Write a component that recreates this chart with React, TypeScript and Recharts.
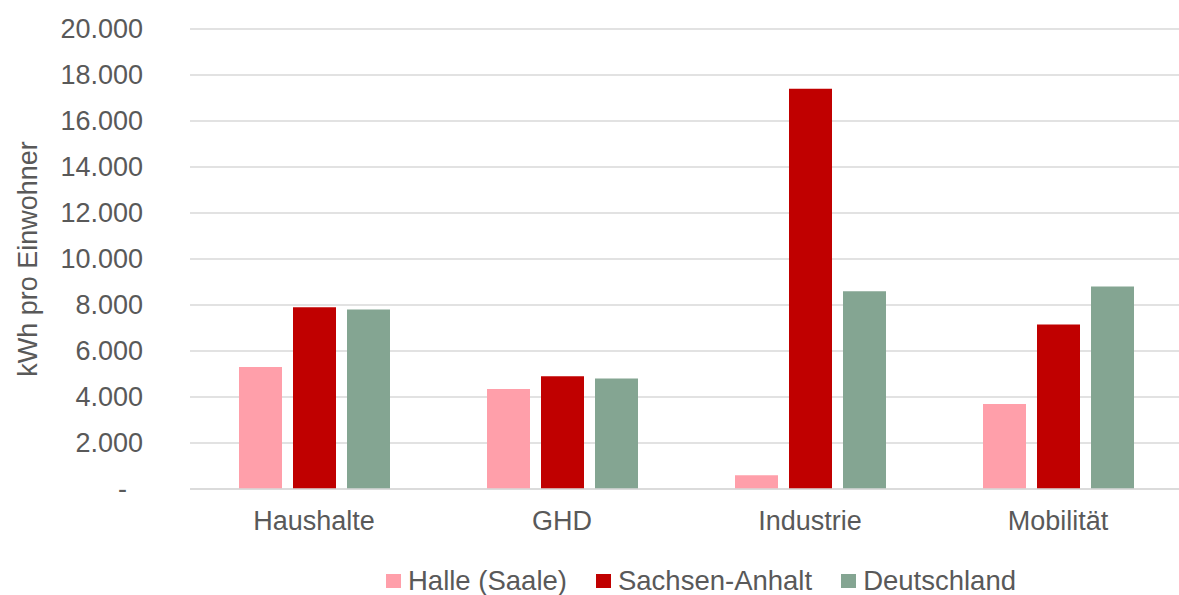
import * as React from "react";
import { BarChart, Bar, XAxis, YAxis, CartesianGrid, Legend, Label } from "recharts";

const categories = ["Haushalte", "GHD", "Industrie", "Mobilität"];
const halle = [5300, 4350, 600, 3700];
const sachsenAnhalt = [7900, 4900, 17400, 7150];
const deutschland = [7800, 4800, 8600, 8800];
const yTicks = [0, 2000, 4000, 6000, 8000, 10000, 12000, 14000, 16000, 18000, 20000];

const series = [
    { key: "halle", name: "Halle (Saale)", color: "#FF9FAA" },
    { key: "sachsenAnhalt", name: "Sachsen-Anhalt", color: "#C00000" },
    { key: "deutschland", name: "Deutschland", color: "#84A592" },
];

const data = categories.map((c, i) => ({
    name: c,
    halle: halle[i],
    sachsenAnhalt: sachsenAnhalt[i],
    deutschland: deutschland[i],
}));

const FONT = '"Liberation Sans", Arial, sans-serif';
const TEXT = "#595959";

const fmt = (v: number) => String(v).replace(/\B(?=(\d{3})+(?!\d))/g, ".");

const YTick = (props: any) => {
    const { x, y, payload } = props;
    const zero = payload.value === 0;
    return (
        <text x={zero ? x - 16 : x} y={y} dy="0.35em" textAnchor="end" fill={TEXT} fontSize={27} fontFamily={FONT}>
            {zero ? "-" : fmt(payload.value)}
        </text>
    );
};

const YLabel = (props: any) => {
    const vb = props.viewBox || {};
    const cx = 28;
    const cy = (vb.y ?? 29) + (vb.height ?? 460) / 2;
    return (
        <text x={cx} y={cy} dy="0.35em" textAnchor="middle" transform={`rotate(-90, ${cx}, ${cy})`} fill={TEXT} fontSize={27} fontFamily={FONT}>
            kWh pro Einwohner
        </text>
    );
};

const LegendBox = () => (
    <div style={{ height: 46, position: "relative", fontFamily: FONT, fontSize: 27.5, color: TEXT }}>
        <div style={{ position: "absolute", left: 386, top: 18, display: "flex", alignItems: "center", whiteSpace: "nowrap" }}>
            {series.map((s) => (
                <div key={s.key} style={{ display: "flex", alignItems: "center", marginRight: 29 }}>
                    <span style={{ width: 15, height: 14, background: s.color, display: "inline-block", marginRight: 7 }} />
                    <span style={{ lineHeight: "28px" }}>{s.name}</span>
                </div>
            ))}
        </div>
    </div>
);

export default function App() {
    return (
        <div style={{ position: "absolute", left: 0, top: 0, width: 1179, height: 595, overflow: "hidden", background: "#fff" }}>
            <BarChart
                width={1182}
                height={595}
                data={data}
                margin={{ top: 29, right: 0, left: 0, bottom: 0 }}
                barGap={11}
                barSize={43}
            >
                <CartesianGrid vertical={false} stroke="#D9D9D9" strokeWidth={1.5} />
                <XAxis
                    dataKey="name"
                    height={60}
                    axisLine={{ stroke: "#D9D9D9", strokeWidth: 1.5 }}
                    tickLine={false}
                    tickSize={0}
                    tickMargin={22}
                    tick={{ fill: TEXT, fontSize: 27, fontFamily: FONT }}
                />
                <YAxis
                    width={190}
                    domain={[0, 20000]}
                    ticks={yTicks}
                    interval={0}
                    axisLine={false}
                    tickLine={false}
                    tickSize={0}
                    tickMargin={47}
                    tick={<YTick />}
                >
                    <Label content={<YLabel />} />
                </YAxis>
                <Legend verticalAlign="bottom" content={<LegendBox />} wrapperStyle={{ height: 46 }} />
                {series.map((s) => (
                    <Bar key={s.key} dataKey={s.key} name={s.name} fill={s.color} isAnimationActive={false} />
                ))}
            </BarChart>
        </div>
    );
}
